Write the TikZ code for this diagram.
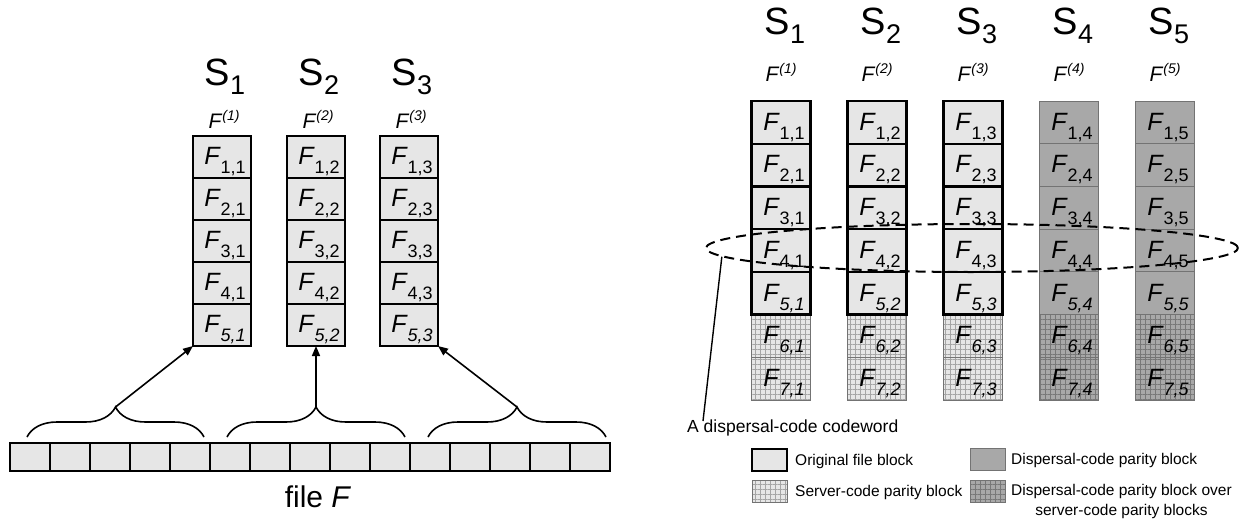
\documentclass[tikz,border=0pt]{standalone}
\usepackage{fontspec}
\setmainfont{Liberation Sans}
\usetikzlibrary{arrows.meta,decorations.pathreplacing,shapes.geometric,patterns.meta}

\definecolor{figcolor0000}{RGB}{230,230,230}
\definecolor{figcolor0001}{RGB}{168,168,168}
\definecolor{figcolor0002}{RGB}{115,115,115}
\definecolor{figcolor0003}{RGB}{165,165,165}
\definecolor{figcolor0004}{RGB}{120,120,120}

% block labels F_{r,c}, upright and italic index
\newcommand{\fblk}[2]{\fontsize{25}{27}\selectfont\hspace{6pt}\vrule height 27pt width 0pt\textit{F}\raisebox{-9pt}{\fontsize{18}{19}\selectfont #1,#2}}
\newcommand{\fblki}[2]{\fontsize{25}{27}\selectfont\hspace{6pt}\vrule height 27pt width 0pt\textit{F}\raisebox{-9pt}{\fontsize{18}{19}\selectfont\textit{#1,#2}}}
\newcommand{\srvname}[1]{\fontsize{38}{40}\selectfont S\raisebox{-9pt}{\fontsize{27}{28}\selectfont #1}}
\newcommand{\fpart}[1]{\fontsize{21}{23}\selectfont\textit{F}\raisebox{8pt}{\fontsize{14}{15}\selectfont\textit{(#1)}}}

\begin{document}
\begin{tikzpicture}[yscale=-1
,lstyle/.style={draw,line width=1.8pt,fill=figcolor0000,minimum width=58pt,minimum height=42pt,inner sep=0pt,outer sep=0pt}
,barstyle/.style={draw,line width=1.6pt,fill=figcolor0000,minimum width=40pt,minimum height=28pt,inner sep=0pt,outer sep=0pt}
,origstyle/.style={draw,line width=2.2pt,fill=figcolor0000,minimum width=59pt,minimum height=42.7pt,inner sep=0pt,outer sep=0pt}
,dispstyle/.style={draw=figcolor0002,line width=0.8pt,fill=figcolor0001,minimum width=59pt,minimum height=42.7pt,inner sep=0pt,outer sep=0pt}
,srvstyle/.style={draw=figcolor0002,line width=0.8pt,preaction={fill=figcolor0000},pattern={Hatch[distance=5pt,angle=0,line width=0.5pt]},pattern color=figcolor0003,minimum width=59pt,minimum height=42.7pt,inner sep=0pt,outer sep=0pt}
,dsrvstyle/.style={draw=figcolor0002,line width=0.8pt,preaction={fill=figcolor0001},pattern={Hatch[distance=5pt,angle=0,line width=0.5pt]},pattern color=figcolor0004,minimum width=59pt,minimum height=42.7pt,inner sep=0pt,outer sep=0pt}
,brc/.style={decorate,decoration={brace,amplitude=30pt},line width=1.6pt}
,arr/.style={-{Triangle[length=10pt,width=8pt]},line width=1.6pt}
,txt/.style={inner sep=0pt}
]
\useasboundingbox (0pt,0pt) rectangle (1246pt,519pt);

% left: servers S1..S3 and the file F
\node[txt] (ls1) at (225pt,77pt){\srvname{1}};
\node[txt] (ls2) at (319pt,77pt){\srvname{2}};
\node[txt] (ls3) at (412pt,77pt){\srvname{3}};
\node[txt] (lp1) at (224pt,119pt){\fpart{1}};
\node[txt] (lp2) at (318pt,119pt){\fpart{2}};
\node[txt] (lp3) at (411pt,119pt){\fpart{3}};
\node[lstyle] (l11) at (222pt,157pt){\fblk{1}{1}};
\node[lstyle] (l21) at (222pt,199pt){\fblk{2}{1}};
\node[lstyle] (l31) at (222pt,241pt){\fblk{3}{1}};
\node[lstyle] (l41) at (222pt,283pt){\fblk{4}{1}};
\node[lstyle] (l51) at (222pt,325pt){\fblki{5}{1}};
\node[lstyle] (l12) at (316pt,157pt){\fblk{1}{2}};
\node[lstyle] (l22) at (316pt,199pt){\fblk{2}{2}};
\node[lstyle] (l32) at (316pt,241pt){\fblk{3}{2}};
\node[lstyle] (l42) at (316pt,283pt){\fblk{4}{2}};
\node[lstyle] (l52) at (316pt,325pt){\fblki{5}{2}};
\node[lstyle] (l13) at (409pt,157pt){\fblk{1}{3}};
\node[lstyle] (l23) at (409pt,199pt){\fblk{2}{3}};
\node[lstyle] (l33) at (409pt,241pt){\fblk{3}{3}};
\node[lstyle] (l43) at (409pt,283pt){\fblk{4}{3}};
\node[lstyle] (l53) at (409pt,325pt){\fblki{5}{3}};

\node[barstyle] (f1) at (30pt,457pt){};
\node[barstyle] (f2) at (70pt,457pt){};
\node[barstyle] (f3) at (110pt,457pt){};
\node[barstyle] (f4) at (150pt,457pt){};
\node[barstyle] (f5) at (190pt,457pt){};
\node[barstyle] (f6) at (230pt,457pt){};
\node[barstyle] (f7) at (270pt,457pt){};
\node[barstyle] (f8) at (310pt,457pt){};
\node[barstyle] (f9) at (350pt,457pt){};
\node[barstyle] (f10) at (390pt,457pt){};
\node[barstyle] (f11) at (430pt,457pt){};
\node[barstyle] (f12) at (470pt,457pt){};
\node[barstyle] (f13) at (510pt,457pt){};
\node[barstyle] (f14) at (550pt,457pt){};
\node[barstyle] (f15) at (590pt,457pt){};
\node[txt] (fname) at (318pt,497pt){\fontsize{30}{32}\selectfont file \textit{F}};

\coordinate (b1l) at (27pt,437pt);
\coordinate (b1r) at (204pt,437pt);
\coordinate (b2l) at (227pt,437pt);
\coordinate (b2r) at (405pt,437pt);
\coordinate (b3l) at (428pt,437pt);
\coordinate (b3r) at (606pt,437pt);
\coordinate (p1) at (115.5pt,407pt);
\coordinate (p2) at (316pt,407pt);
\coordinate (p3) at (517pt,407pt);
\draw[brc] (b1l) -- (b1r);
\draw[brc] (b2l) -- (b2r);
\draw[brc] (b3l) -- (b3r);
\draw[arr] (p1) -- (l51.south west);
\draw[arr] (p2) -- (l52.south);
\draw[arr] (p3) -- (l53.south east);

% right: servers S1..S5 with dispersal and server code
\node[txt] (rs1) at (785pt,26pt){\srvname{1}};
\node[txt] (rs2) at (881pt,26pt){\srvname{2}};
\node[txt] (rs3) at (977pt,26pt){\srvname{3}};
\node[txt] (rs4) at (1073pt,26pt){\srvname{4}};
\node[txt] (rs5) at (1169pt,26pt){\srvname{5}};
\node[txt] (rp1) at (781pt,72pt){\fpart{1}};
\node[txt] (rp2) at (877pt,72pt){\fpart{2}};
\node[txt] (rp3) at (973pt,72pt){\fpart{3}};
\node[txt] (rp4) at (1069pt,72pt){\fpart{4}};
\node[txt] (rp5) at (1165pt,72pt){\fpart{5}};

\node[srvstyle] (r61) at (781pt,335.9pt){\fblki{6}{1}};
\node[srvstyle] (r71) at (781pt,378.6pt){\fblki{7}{1}};
\node[srvstyle] (r62) at (877pt,335.9pt){\fblki{6}{2}};
\node[srvstyle] (r72) at (877pt,378.6pt){\fblki{7}{2}};
\node[srvstyle] (r63) at (973pt,335.9pt){\fblki{6}{3}};
\node[srvstyle] (r73) at (973pt,378.6pt){\fblki{7}{3}};
\node[origstyle] (r11) at (781pt,122.4pt){\fblk{1}{1}};
\node[origstyle] (r21) at (781pt,165.1pt){\fblk{2}{1}};
\node[origstyle] (r31) at (781pt,207.8pt){\fblk{3}{1}};
\node[origstyle] (r41) at (781pt,250.5pt){\fblk{4}{1}};
\node[origstyle] (r51) at (781pt,293.2pt){\fblki{5}{1}};
\node[origstyle] (r12) at (877pt,122.4pt){\fblk{1}{2}};
\node[origstyle] (r22) at (877pt,165.1pt){\fblk{2}{2}};
\node[origstyle] (r32) at (877pt,207.8pt){\fblk{3}{2}};
\node[origstyle] (r42) at (877pt,250.5pt){\fblk{4}{2}};
\node[origstyle] (r52) at (877pt,293.2pt){\fblki{5}{2}};
\node[origstyle] (r13) at (973pt,122.4pt){\fblk{1}{3}};
\node[origstyle] (r23) at (973pt,165.1pt){\fblk{2}{3}};
\node[origstyle] (r33) at (973pt,207.8pt){\fblk{3}{3}};
\node[origstyle] (r43) at (973pt,250.5pt){\fblk{4}{3}};
\node[origstyle] (r53) at (973pt,293.2pt){\fblki{5}{3}};
\node[dispstyle] (r14) at (1069pt,122.4pt){\fblk{1}{4}};
\node[dispstyle] (r24) at (1069pt,165.1pt){\fblk{2}{4}};
\node[dispstyle] (r34) at (1069pt,207.8pt){\fblk{3}{4}};
\node[dispstyle] (r44) at (1069pt,250.5pt){\fblk{4}{4}};
\node[dispstyle] (r54) at (1069pt,293.2pt){\fblki{5}{4}};
\node[dsrvstyle] (r64) at (1069pt,335.9pt){\fblki{6}{4}};
\node[dsrvstyle] (r74) at (1069pt,378.6pt){\fblki{7}{4}};
\node[dispstyle] (r15) at (1165pt,122.4pt){\fblk{1}{5}};
\node[dispstyle] (r25) at (1165pt,165.1pt){\fblk{2}{5}};
\node[dispstyle] (r35) at (1165pt,207.8pt){\fblk{3}{5}};
\node[dispstyle] (r45) at (1165pt,250.5pt){\fblk{4}{5}};
\node[dispstyle] (r55) at (1165pt,293.2pt){\fblki{5}{5}};
\node[dsrvstyle] (r65) at (1165pt,335.9pt){\fblki{6}{5}};
\node[dsrvstyle] (r75) at (1165pt,378.6pt){\fblki{7}{5}};

% codeword ring
\node[ellipse,draw,dashed,dash pattern=on 10pt off 6pt,line width=2pt,minimum width=532pt,minimum height=48pt,inner sep=0pt] (cw) at (972pt,248pt){};
\node[txt] (cwlbl) at (687pt,428pt)[right]{\fontsize{17.5}{19}\selectfont A dispersal-code codeword};
\coordinate (cwtip) at (703pt,421pt);
\draw[line width=1.4pt] (cw.182) -- (cwtip);

% legend
\node[origstyle,minimum width=35pt,minimum height=22pt] (lg1) at (769.5pt,460pt){};
\node[dispstyle,minimum width=35pt,minimum height=22pt] (lg2) at (987.5pt,459pt){};
\node[srvstyle,minimum width=35pt,minimum height=22pt] (lg3) at (769.5pt,491pt){};
\node[dsrvstyle,minimum width=35pt,minimum height=22pt] (lg4) at (987.5pt,491pt){};
\node[txt] (lgt1) at (795pt,461pt)[right]{\fontsize{15.5}{18}\selectfont Original file block};
\node[txt] (lgt2) at (1011pt,460pt)[right]{\fontsize{15.5}{18}\selectfont Dispersal-code parity block};
\node[txt] (lgt3) at (795pt,492pt)[right]{\fontsize{15.5}{18}\selectfont Server-code parity block};
\node[txt,align=center,font=\fontsize{15.5}{20}\selectfont] (lgt4) at (1011pt,501pt)[right]{Dispersal-code parity block over\\server-code parity blocks};
\end{tikzpicture}
\end{document}
